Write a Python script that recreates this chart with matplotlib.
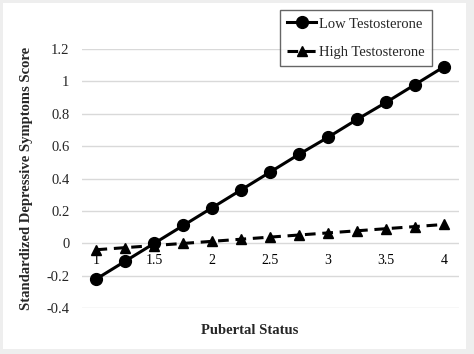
import numpy as np
import matplotlib.pyplot as plt
from matplotlib.patches import Rectangle

# -------------------------------------------------------------
# Dados
pubertal_status = [1.0, 1.25, 1.5, 1.75, 2.0, 2.25, 2.5, 2.75, 3.0, 3.25, 3.5, 3.75, 4.0]
low_testosterone = [-0.22, -0.11, 0.00, 0.11, 0.22, 0.33, 0.44, 0.55, 0.655, 0.765, 0.87, 0.98, 1.09]
high_testosterone = [-0.04, -0.027, -0.014, -0.001, 0.012, 0.025, 0.038, 0.051, 0.064, 0.077, 0.09, 0.103, 0.116]

x_ticks = [1, 1.5, 2, 2.5, 3, 3.5, 4]
x_tick_labels = ["1", "1.5", "2", "2.5", "3", "3.5", "4"]
y_ticks = [-0.4, -0.2, 0, 0.2, 0.4, 0.6, 0.8, 1, 1.2]
y_tick_labels = ["-0.4", "-0.2", "0", "0.2", "0.4", "0.6", "0.8", "1", "1.2"]

plt.rcParams["font.family"] = ["Liberation Serif", "DejaVu Serif"]
text_color = "#262626"

# -------------------------------------------------------------
# Figura
fig = plt.figure(figsize=(4.74, 3.54), dpi=100, facecolor="#eeeeee")
fig.patches.append(Rectangle((3 / 474, 5 / 354), 463 / 474, 346 / 354,
                             transform=fig.transFigure, facecolor="white",
                             edgecolor="none", zorder=-5))

ax = fig.add_axes([82 / 474, 1 - 308 / 354, 377 / 474, 259 / 354])
ax.set_facecolor("none")

ax.plot(pubertal_status, low_testosterone, "-o", color="black", linewidth=2.2,
        markersize=8.5, label="Low Testosterone", zorder=3)
ax.plot(pubertal_status, high_testosterone, "--^", color="black", linewidth=2.2,
        markersize=7.5, dashes=(3.5, 2.2), label="High Testosterone", zorder=3)

ax.set_xlim(0.875, 4.13)
ax.set_ylim(-0.4, 1.2)
ax.set_yticks(y_ticks)
ax.set_yticklabels(y_tick_labels, fontsize=10.5, color=text_color)
ax.set_xticks(x_ticks)
ax.set_xticklabels(x_tick_labels, fontsize=10.5, color=text_color)

ax.grid(True, axis="y", color="#d9d9d9", linewidth=1.0)
ax.set_axisbelow(True)
for side in ["top", "right", "left"]:
    ax.spines[side].set_visible(False)
ax.spines["bottom"].set_position(("data", 0))
ax.spines["bottom"].set_visible(False)
ax.tick_params(axis="both", length=0)
ax.tick_params(axis="y", pad=9)
ax.tick_params(axis="x", pad=8)

ax.set_ylabel("Standardized Depressive Symptoms Score", fontsize=10.5,
              fontweight="bold", labelpad=10, color=text_color)
fig.text(250 / 474, 1 - 330 / 354, "Pubertal Status", fontsize=10.5,
         fontweight="bold", ha="center", va="center", color=text_color)

# -------------------------------------------------------------
# Legenda
leg = fig.legend(loc="upper left", bbox_to_anchor=(280 / 474, 1 - 10 / 354),
                 fontsize=10.5, frameon=True, fancybox=False, handlelength=2.0,
                 borderpad=0.5, labelspacing=1.05, handletextpad=0.15,
                 borderaxespad=0, labelcolor=text_color)
leg.get_frame().set_edgecolor("#404040")
leg.get_frame().set_linewidth(1.0)

plt.savefig("out.png", dpi=100, facecolor=fig.get_facecolor())
plt.close()
